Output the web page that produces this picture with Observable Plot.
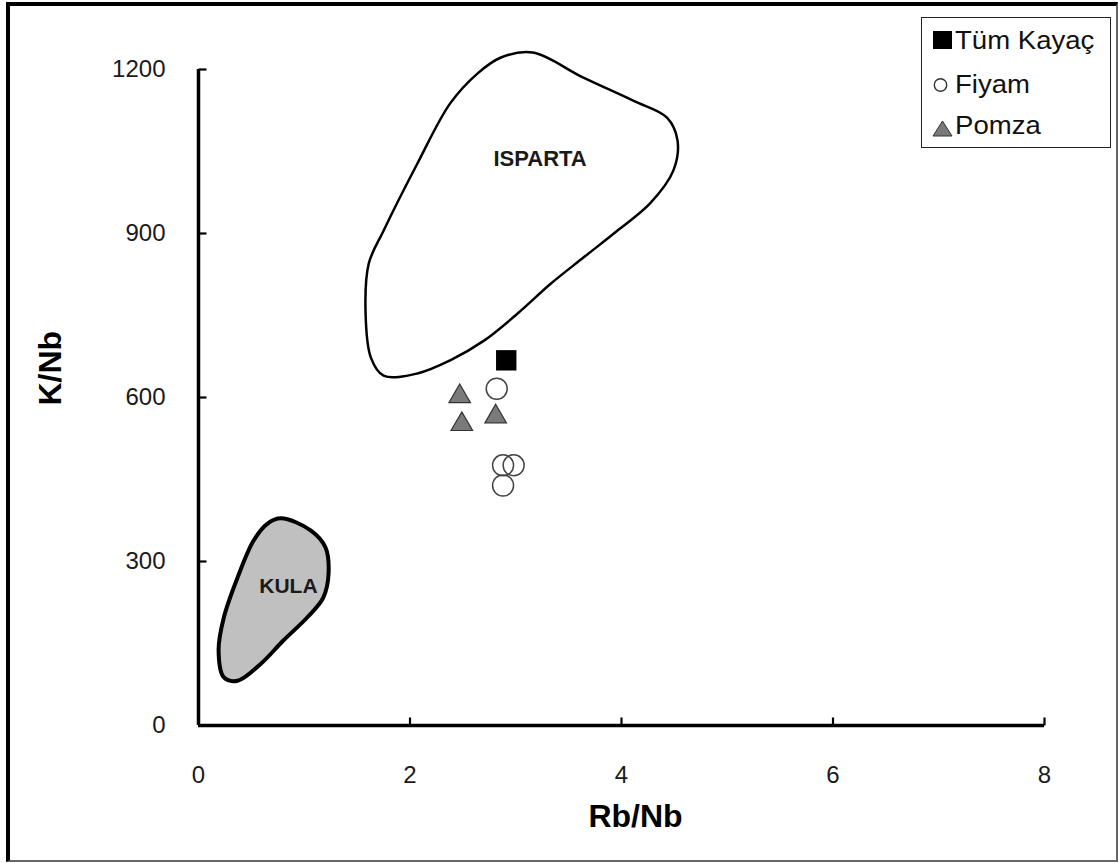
<!DOCTYPE html>
<html><head><meta charset="utf-8">
<script src="https://cdn.jsdelivr.net/npm/d3@7"></script>
<script src="https://cdn.jsdelivr.net/npm/@observablehq/plot@0.6"></script>
<style>
body{margin:0;background:#fff;font-family:"Liberation Sans",Arial,sans-serif;}
#wrap{position:relative;width:1120px;height:863px;overflow:hidden;background:#fff;}
#chart svg{position:absolute;left:0;top:0;overflow:visible;}
#border{position:absolute;left:6px;top:2px;width:1112px;height:860px;box-sizing:border-box;border:4px solid #000;border-right:2px solid #666;border-bottom:2px solid #666;pointer-events:none;}
#legend{position:absolute;left:921px;top:17px;width:190px;height:131px;box-sizing:border-box;border:1.5px solid #222;background:#fff;}
.row{position:absolute;left:0;height:35px;width:185px;}
.row svg{position:absolute;left:0;top:0;}
.row span{position:absolute;left:33px;top:5px;font-size:26px;line-height:25px;white-space:nowrap;color:#111;transform:scaleX(1.06);transform-origin:left center;}
</style></head>
<body>
<div id="wrap"><div id="chart"></div>
<div id="legend"></div>
<div id="border"></div></div>
<script>
// Samples
const tumX = [2.91];
const tumY = [668];
const fiyamX = [2.82, 2.88, 2.98, 2.88];
const fiyamY = [616, 476, 476, 439];
const pomzaX = [2.47, 2.49, 2.81];
const pomzaY = [602, 551, 565];

// Field outlines
const ispartaX = [3.16,3.64,4.11,4.43,4.53,4.49,4.27,3.96,3.64,3.33,3.02,2.70,2.38,2.07,1.75,1.63,1.58,1.61,1.75,2.07,2.38,2.64,2.86];
const ispartaY = [1231,1185,1143,1112,1070,1015,955,905,856,808,754,704,668,644,640,673,754,845,905,1028,1138,1193,1222];
const kulaX = [0.78,1.06,1.20,1.23,1.18,1.03,0.80,0.59,0.37,0.24,0.19,0.24,0.37,0.52,0.65];
const kulaY = [379,357,326,278,234,198,155,113,82,88,137,198,271,338,369];

const fieldLabels = ["ISPARTA", "KULA"];
const fieldLabelX = [3.23, 0.85];
const fieldLabelY = [1037, 255];

const xTicks = [0, 2, 4, 6, 8];
const yTicks = [0, 300, 600, 900, 1200];
const legendNames = ["Tüm Kayaç", "Fiyam", "Pomza"];

const zip = (xs, ys) => xs.map((x, i) => ({x, y: ys[i]}));
const isparta = zip(ispartaX, ispartaY);
const kula = zip(kulaX, kulaY);
const tum = zip(tumX, tumY);
const fiyam = zip(fiyamX, fiyamY);
const pomza = zip(pomzaX, pomzaY);
const labels = fieldLabels.map((t, i) => ({t, x: fieldLabelX[i], y: fieldLabelY[i]}));

// inward tick glyphs
const tickUp = {draw(ctx) { ctx.moveTo(0, 0); ctx.lineTo(0, -8); }};
const tickRight = {draw(ctx) { ctx.moveTo(0, 0); ctx.lineTo(8, 0); }};

const plot = Plot.plot({
  width: 1120,
  height: 863,
  marginLeft: 198,
  marginRight: 76,
  marginTop: 69,
  marginBottom: 138,
  style: {fontFamily: '"Liberation Sans", Arial, sans-serif', background: "transparent", color: "#000"},
  x: {domain: [0, 8]},
  y: {domain: [0, 1200]},
  marks: [
    Plot.line(kula, {x: "x", y: "y", curve: "catmull-rom-closed", fill: "#c0c0c0", stroke: "#000", strokeWidth: 4}),
    Plot.line(isparta, {x: "x", y: "y", curve: "catmull-rom-closed", stroke: "#000", strokeWidth: 2.5}),
    Plot.text(labels, {x: "x", y: "y", text: "t", fontSize: d => d.t === "KULA" ? 21 : 22, fontWeight: "bold", fill: "#1a1a1a"}),
    Plot.ruleX([0], {y1: 0, y2: 1200, stroke: "#000", strokeWidth: 3.5}),
    Plot.ruleY([0], {x1: 0, x2: 8, stroke: "#000", strokeWidth: 3.5}),
    Plot.dot(xTicks.slice(1), {x: d => d, y: 0, symbol: tickUp, stroke: "#000", strokeWidth: 2.2}),
    Plot.dot(yTicks.slice(1), {x: 0, y: d => d, symbol: tickRight, stroke: "#000", strokeWidth: 2.2}),
    Plot.axisX({ticks: xTicks, tickSize: 0, tickPadding: 40, tickFormat: d => String(d), label: null, fontSize: 24, fill: "#1a1a1a"}),
    Plot.axisY({ticks: yTicks, tickSize: 0, tickPadding: 33, tickFormat: d => String(d), label: null, fontSize: 24, fill: "#1a1a1a"}),
    Plot.text(["Rb/Nb"], {frameAnchor: "bottom", dy: 101, dx: 14, fontSize: 32, fontWeight: "bold", fill: "#000"}),
    Plot.text(["K/Nb"], {frameAnchor: "left", dx: -148, dy: 8, rotate: -90, fontSize: 32, fontWeight: "bold", fill: "#000"}),
    Plot.dot(pomza, {x: "x", y: "y", symbol: "triangle", r: 8, fill: "#7a7a7a", stroke: "#333", strokeWidth: 1.2}),
    Plot.dot(fiyam, {x: "x", y: "y", symbol: "circle", r: 10.5, fill: "none", stroke: "#444", strokeWidth: 1.5}),
    Plot.dot(tum, {x: "x", y: "y", symbol: "square", r: 11.5, fill: "#000", stroke: "none"})
  ]
});
document.getElementById("chart").appendChild(plot);

// legend
const legend = document.getElementById("legend");
const markers = [
  '<rect x="11" y="8" width="19" height="18" fill="#000"/>',
  '<circle cx="18.5" cy="18" r="6.2" fill="none" stroke="#333" stroke-width="1.4"/>',
  '<path d="M20.5,13 L30,28 L11,28 Z" fill="#7a7a7a" stroke="#333" stroke-width="1"/>'
];
const tops = [5, 49, 90];
legendNames.forEach((name, i) => {
  const row = document.createElement("div");
  row.className = "row";
  row.style.top = tops[i] + "px";
  row.innerHTML = `<svg width="40" height="35">${markers[i]}</svg><span>${name}</span>`;
  legend.appendChild(row);
});
</script>
</body></html>
